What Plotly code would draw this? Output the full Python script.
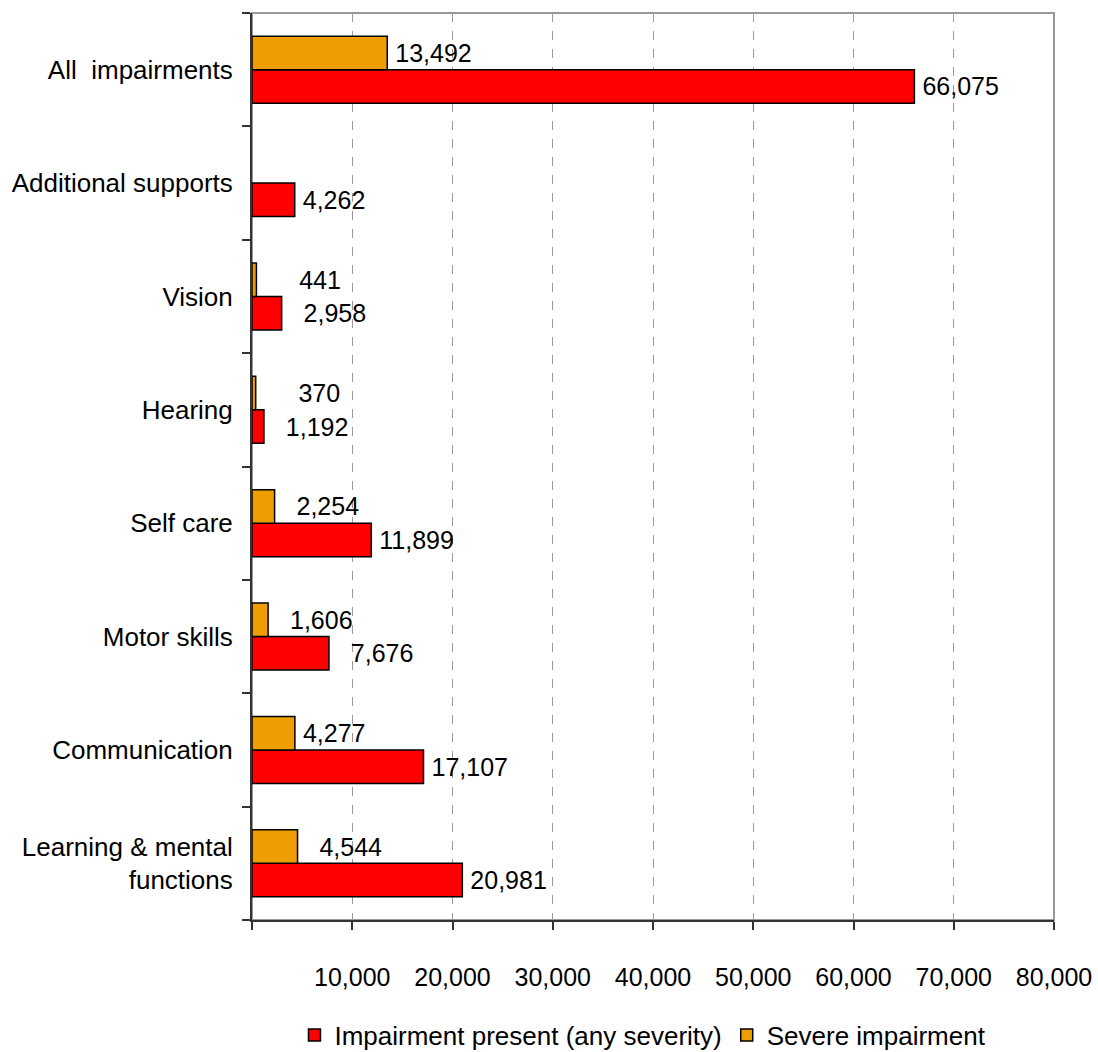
import plotly.graph_objects as go

# Data (listed top-to-bottom as displayed)
categories = [
    "All  impairments",
    "Additional supports",
    "Vision",
    "Hearing",
    "Self care",
    "Motor skills",
    "Communication",
    "Learning & mental<br>functions",
]
any_severity = [66075, 4262, 2958, 1192, 11899, 7676, 17107, 20981]
severe = [13492, None, 441, 370, 2254, 1606, 4277, 4544]
x_ticks = [0, 10000, 20000, 30000, 40000, 50000, 60000, 70000, 80000]
x_tick_text = ["", "10,000", "20,000", "30,000", "40,000", "50,000", "60,000", "70,000", "80,000"]

# label padding (number of non-breaking spaces, purely stylistic)
pad_any = [0, 0, 2, 2, 0, 2, 0, 0]
pad_severe = [0, 0, 5, 5, 2, 2, 0, 2]

FONT = "Liberation Sans, Arial, sans-serif"
FS_NUM = 25
FS_TXT = 26


def fmt(v, p):
    if v is None:
        return ""
    return "\u2009" + "\u00a0" * p + f"{v:,}"


fig = go.Figure()
fig.add_trace(go.Bar(
    y=categories, x=any_severity, orientation="h",
    name="Impairment present (any severity)",
    marker=dict(color="#FF0000", line=dict(color="#000000", width=1.5)),
    text=[fmt(v, p) for v, p in zip(any_severity, pad_any)],
    textposition="outside", constraintext="none", cliponaxis=False,
    textfont=dict(family=FONT, size=FS_NUM, color="#000000"),
    hoverinfo="x+y",
))
fig.add_trace(go.Bar(
    y=categories, x=severe, orientation="h",
    name="Severe impairment",
    marker=dict(color="#EE9E00", line=dict(color="#000000", width=1.5)),
    text=[fmt(v, p) for v, p in zip(severe, pad_severe)],
    textposition="outside", constraintext="none", cliponaxis=False,
    textfont=dict(family=FONT, size=FS_NUM, color="#000000"),
    hoverinfo="x+y",
))

fig.update_layout(
    width=1098, height=1052,
    margin=dict(l=252, r=44, t=13, b=132, autoexpand=False),
    paper_bgcolor="white", plot_bgcolor="white",
    barmode="group", bargap=0.41, bargroupgap=0,
    font=dict(family=FONT, size=FS_TXT, color="#000000"),
    showlegend=True,
    legend=dict(
        orientation="h", x=0.4875, xanchor="center", y=-0.127, yanchor="middle",
        font=dict(family=FONT, size=FS_TXT, color="#000000"),
        itemwidth=30, tracegroupgap=0,
    ),
    shapes=[dict(
        type="rect", xref="paper", yref="paper", x0=0, x1=1, y0=0, y1=1,
        line=dict(color="#999999", width=2), layer="below",
    )],
)

fig.update_xaxes(
    range=[0, 80000], tickvals=x_ticks, ticktext=x_tick_text,
    showgrid=True, gridcolor="#9a9a9a", griddash="dash", gridwidth=1,
    showline=True, linecolor="#333333", linewidth=2,
    ticks="outside", ticklen=8, tickcolor="#333333", tickwidth=1.5,
    ticklabelstandoff=26, zeroline=False, automargin=False,
    ticklabeloverflow="allow",
    tickfont=dict(family=FONT, size=FS_NUM, color="#000000"),
)
fig.update_yaxes(
    type="category", categoryorder="array", categoryarray=categories[::-1],
    showgrid=False, showline=True, linecolor="#333333", linewidth=2,
    ticks="outside", ticklen=8, tickcolor="#333333", tickwidth=1.5,
    tickson="boundaries", ticklabelstandoff=12, automargin=False,
    tickfont=dict(family=FONT, size=FS_TXT, color="#000000"),
)

fig.write_html(
    "out.html",
    config={"displayModeBar": False},
    post_script="document.body.style.margin='0';document.body.style.padding='0';"
                "document.documentElement.style.overflow='hidden';",
)
